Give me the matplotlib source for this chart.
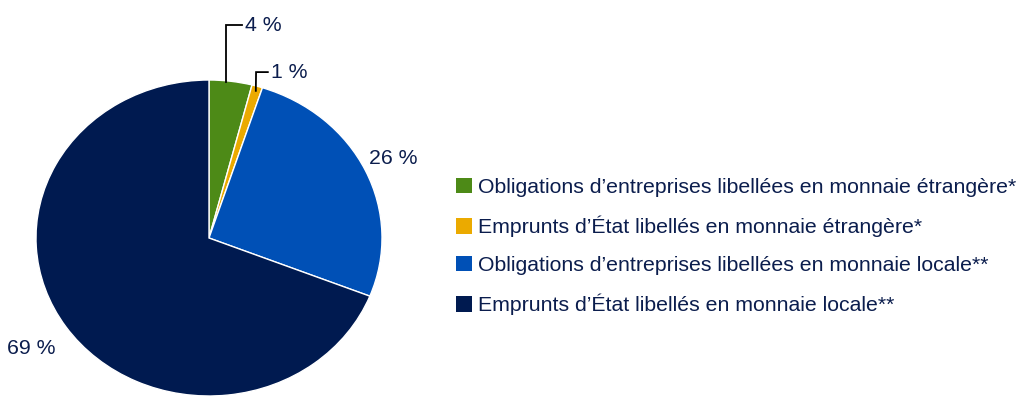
import numpy as np
import matplotlib
matplotlib.use("Agg")
import matplotlib.pyplot as plt
from matplotlib.patches import Patch

# share of each debt category, clockwise from 12 o'clock
categories = [
    "Obligations d\u2019entreprises libellées en monnaie étrangère*",
    "Emprunts d\u2019État libellés en monnaie étrangère*",
    "Obligations d\u2019entreprises libellées en monnaie locale**",
    "Emprunts d\u2019État libellés en monnaie locale**",
]
shares = [4, 1, 26, 69]
pct_labels = ["4 %", "1 %", "26 %", "69 %"]
colors = ["#4d8a17", "#ebaa00", "#0050b6", "#001a50"]

TXT = "#0b1d4d"
FS = 15.3

plt.rcParams['font.family'] = ['Liberation Sans', 'DejaVu Sans']

W, H = 1019, 396
fig = plt.figure(figsize=(W / 100, H / 100), dpi=100)

# pie box in pixels: slightly wider than tall, bottom runs off the figure
cx, cy, rx, ry = 209, 238, 173, 158
ax = fig.add_axes([(cx - rx) / W, (H - cy - ry) / H, 2 * rx / W, 2 * ry / H])
wedges, _ = ax.pie(shares, colors=colors, startangle=90, counterclock=False,
                   wedgeprops=dict(edgecolor="white", linewidth=1.0))
ax.set_aspect("auto")
ax.set_xlim(-1, 1)
ax.set_ylim(-1, 1)
ax.axis("off")

# mid angle of each wedge (degrees, standard orientation)
cum = np.cumsum(shares) - np.array(shares) / 2.0
mid = np.radians(90 - cum / np.sum(shares) * 360)

# small slices: label pulled up with an elbow leader
small = {0: (0.10, 1.345, 0.19), 1: (0.272, 1.05, 0.34)}
for i, (ex, ey, tx) in small.items():
    sx, sy = np.cos(mid[i]) * 0.97, np.sin(mid[i]) * 0.97
    if i == 0:
        sx = ex
        sy = np.sqrt(1 - ex ** 2) * 0.99
    ax.plot([sx, ex, tx], [sy, ey, ey], color="black", lw=1.3,
            clip_on=False, solid_joinstyle="miter")
    ax.text(tx + 0.02, ey, pct_labels[i], ha="left", va="center",
            fontsize=FS, color=TXT, clip_on=False)

# large slices: plain label outside the rim
dist = {2: 1.18, 3: 1.24}
for i, d in dist.items():
    ax.text(np.cos(mid[i]) * d, np.sin(mid[i]) * d, pct_labels[i],
            ha="center", va="center", fontsize=FS, color=TXT, clip_on=False)

handles = [Patch(facecolor=c, edgecolor="none") for c in colors]
leg = fig.legend(handles, categories, loc="center left",
                 bbox_to_anchor=(456 / W, 1 - 246.5 / H),
                 frameon=False, fontsize=FS, borderpad=0, borderaxespad=0,
                 handlelength=0.75, handleheight=0.75, handletextpad=0.3,
                 labelspacing=0.88)
for t in leg.get_texts():
    t.set_color(TXT)

fig.savefig("out.png", dpi=100)
